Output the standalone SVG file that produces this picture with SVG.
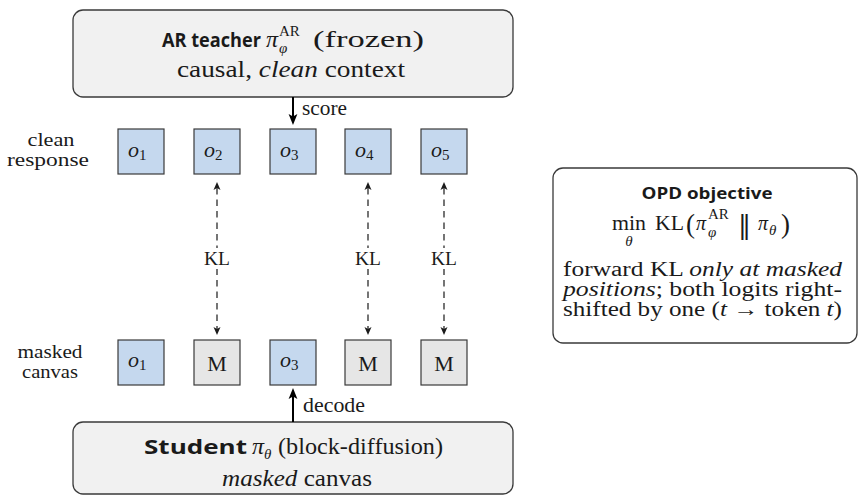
<svg xmlns="http://www.w3.org/2000/svg" width="859" height="497" viewBox="0 0 859 497">
<style>
.big{fill:#f1f1f1;stroke:#3a3a3a;stroke-width:1.3}
.card{fill:#ffffff;stroke:#3a3a3a;stroke-width:1.3}
.tb{fill:#c5d8ee;stroke:#3a3a3a;stroke-width:1.2}
.tg{fill:#e6e6e6;stroke:#3a3a3a;stroke-width:1.2}
text{fill:#1a1a1a}
.sr{font-family:"Liberation Serif",serif;font-size:24px}
.sm{font-family:"Liberation Serif",serif;font-size:20px}
.it{font-style:italic}
.sb{font-family:"Open Sans","Liberation Sans",sans-serif;font-weight:700;font-size:19px}
.sp{font-family:"Liberation Serif",serif;font-size:15px}
.tok{font-family:"Liberation Serif",serif;font-size:22px}
.lab{font-family:"Liberation Serif",serif;font-size:18px;text-anchor:middle}
.solid{stroke:#000;stroke-width:2;fill:none}
.dash{stroke:#1a1a1a;stroke-width:1.2;fill:none;stroke-dasharray:6.5 5}
</style>
<defs>
<marker id="ah" viewBox="0 0 12 10" markerWidth="12" markerHeight="10" refX="3" refY="5" orient="auto" markerUnits="userSpaceOnUse">
<path d="M0,0.6 L11,5 L0,9.4 L2.5,5 z" fill="#000"/>
</marker>
<marker id="ad" viewBox="0 0 9 8" markerWidth="9" markerHeight="8" refX="2" refY="4" orient="auto-start-reverse" markerUnits="userSpaceOnUse">
<path d="M0,0.5 L8,4 L0,7.5 L2,4 z" fill="#1a1a1a"/>
</marker>
</defs>

<g id="teacher">
<rect class="big" x="73" y="10" width="440" height="87" rx="10"/>
<text class="sb" x="162" y="47" textLength="99" lengthAdjust="spacingAndGlyphs">AR teacher</text>
<text class="sr it" x="266" y="47">π</text>
<text class="sp" x="279" y="36">AR</text>
<text class="sp it" x="279" y="53">φ</text>
<text class="sr" x="313" y="47" textLength="111" lengthAdjust="spacingAndGlyphs">(frozen)</text>
<text class="sr" x="177" y="77" textLength="228" lengthAdjust="spacingAndGlyphs">causal, <tspan class="it">clean</tspan> context</text>
</g>

<g id="label-clean">
<text class="lab" x="51" y="146" textLength="47" lengthAdjust="spacingAndGlyphs">clean</text>
<text class="lab" x="48" y="166" textLength="82" lengthAdjust="spacingAndGlyphs">response</text>
</g>

<g id="c1"><rect class="tb" x="118" y="129" width="46" height="45"/><text class="tok it" x="128" y="157">o<tspan class="sp" font-style="normal" dy="3">1</tspan></text></g>
<g id="c2"><rect class="tb" x="194" y="129" width="46" height="45"/><text class="tok it" x="204" y="157">o<tspan class="sp" font-style="normal" dy="3">2</tspan></text></g>
<g id="c3"><rect class="tb" x="270" y="129" width="46" height="45"/><text class="tok it" x="280" y="157">o<tspan class="sp" font-style="normal" dy="3">3</tspan></text></g>
<g id="c4"><rect class="tb" x="345" y="129" width="46" height="45"/><text class="tok it" x="355" y="157">o<tspan class="sp" font-style="normal" dy="3">4</tspan></text></g>
<g id="c5"><rect class="tb" x="421" y="129" width="46" height="45"/><text class="tok it" x="431" y="157">o<tspan class="sp" font-style="normal" dy="3">5</tspan></text></g>

<g id="label-masked">
<text class="lab" x="50" y="358" textLength="65" lengthAdjust="spacingAndGlyphs">masked</text>
<text class="lab" x="50" y="378" textLength="56" lengthAdjust="spacingAndGlyphs">canvas</text>
</g>

<g id="m1"><rect class="tb" x="118" y="340" width="46" height="45"/><text class="tok it" x="128" y="367">o<tspan class="sp" font-style="normal" dy="3">1</tspan></text></g>
<g id="m2"><rect class="tg" x="194" y="340" width="46" height="45"/><text class="tok" x="217" y="371" text-anchor="middle">M</text></g>
<g id="m3"><rect class="tb" x="270" y="340" width="46" height="45"/><text class="tok it" x="280" y="367">o<tspan class="sp" font-style="normal" dy="3">3</tspan></text></g>
<g id="m4"><rect class="tg" x="345" y="340" width="46" height="45"/><text class="tok" x="368" y="371" text-anchor="middle">M</text></g>
<g id="m5"><rect class="tg" x="421" y="340" width="46" height="45"/><text class="tok" x="444" y="371" text-anchor="middle">M</text></g>

<g id="student">
<rect class="big" x="73" y="422" width="440" height="72" rx="10"/>
<text class="sb" x="144" y="454" textLength="103" lengthAdjust="spacingAndGlyphs">Student</text>
<text class="sr it" x="252" y="454">π</text>
<text class="sp it" x="264" y="459">θ</text>
<text class="sr" x="278" y="454" textLength="165" lengthAdjust="spacingAndGlyphs">(block-diffusion)</text>
<text class="sr" x="222" y="486" textLength="150" lengthAdjust="spacingAndGlyphs"><tspan class="it">masked</tspan> canvas</text>
</g>

<g id="objective">
<rect class="card" x="553" y="168" width="304" height="175" rx="10"/>
<text class="sb" x="707" y="199" text-anchor="middle" textLength="131" lengthAdjust="spacingAndGlyphs" style="font-size:16px">OPD objective</text>
<text class="sm" x="612" y="230" textLength="34" lengthAdjust="spacingAndGlyphs">min</text>
<text class="sp it" x="629" y="246" text-anchor="middle">θ</text>
<text class="sm" x="655" y="230" textLength="29" lengthAdjust="spacingAndGlyphs">KL</text>
<text class="sr" x="686" y="233" style="font-size:27px">(</text>
<text class="sm it" x="696" y="230">π</text>
<text class="sp" x="708" y="219">AR</text>
<text class="sp it" x="708" y="237">φ</text>
<text x="738" y="234" style="font-family:'DejaVu Serif',serif;font-size:26px;fill:#1a1a1a">‖</text>
<text class="sm it" x="758" y="230">π</text>
<text class="sp it" x="769" y="235">θ</text>
<text class="sr" x="781" y="233" style="font-size:27px">)</text>
<text class="sm" x="563" y="276" textLength="279" lengthAdjust="spacingAndGlyphs">forward KL <tspan class="it">only at masked</tspan></text>
<text class="sm" x="563" y="296" textLength="279" lengthAdjust="spacingAndGlyphs"><tspan class="it">positions</tspan>; both logits right-</text>
<text class="sm" x="563" y="316" textLength="279" lengthAdjust="spacingAndGlyphs">shifted by one (<tspan class="it">t</tspan> → token <tspan class="it">t</tspan>)</text>
</g>

<g id="connectors">
<line class="solid" x1="293" y1="97" x2="293" y2="117" marker-end="url(#ah)"/>
<text class="sm" x="302" y="115" textLength="45" lengthAdjust="spacingAndGlyphs">score</text>
<line class="solid" x1="293" y1="422" x2="293" y2="396" marker-end="url(#ah)"/>
<text class="sm" x="303" y="412" textLength="62" lengthAdjust="spacingAndGlyphs">decode</text>
<line class="dash" x1="217" y1="188" x2="217" y2="329" marker-start="url(#ad)" marker-end="url(#ad)"/>
<line class="dash" x1="368" y1="188" x2="368" y2="329" marker-start="url(#ad)" marker-end="url(#ad)"/>
<line class="dash" x1="444" y1="188" x2="444" y2="329" marker-start="url(#ad)" marker-end="url(#ad)"/>
<rect x="203" y="248" width="28" height="21" fill="#fff"/>
<rect x="354" y="248" width="28" height="21" fill="#fff"/>
<rect x="430" y="248" width="28" height="21" fill="#fff"/>
<text class="lab" x="217" y="265" textLength="26" lengthAdjust="spacingAndGlyphs">KL</text>
<text class="lab" x="368" y="265" textLength="26" lengthAdjust="spacingAndGlyphs">KL</text>
<text class="lab" x="444" y="265" textLength="26" lengthAdjust="spacingAndGlyphs">KL</text>
</g>
</svg>
